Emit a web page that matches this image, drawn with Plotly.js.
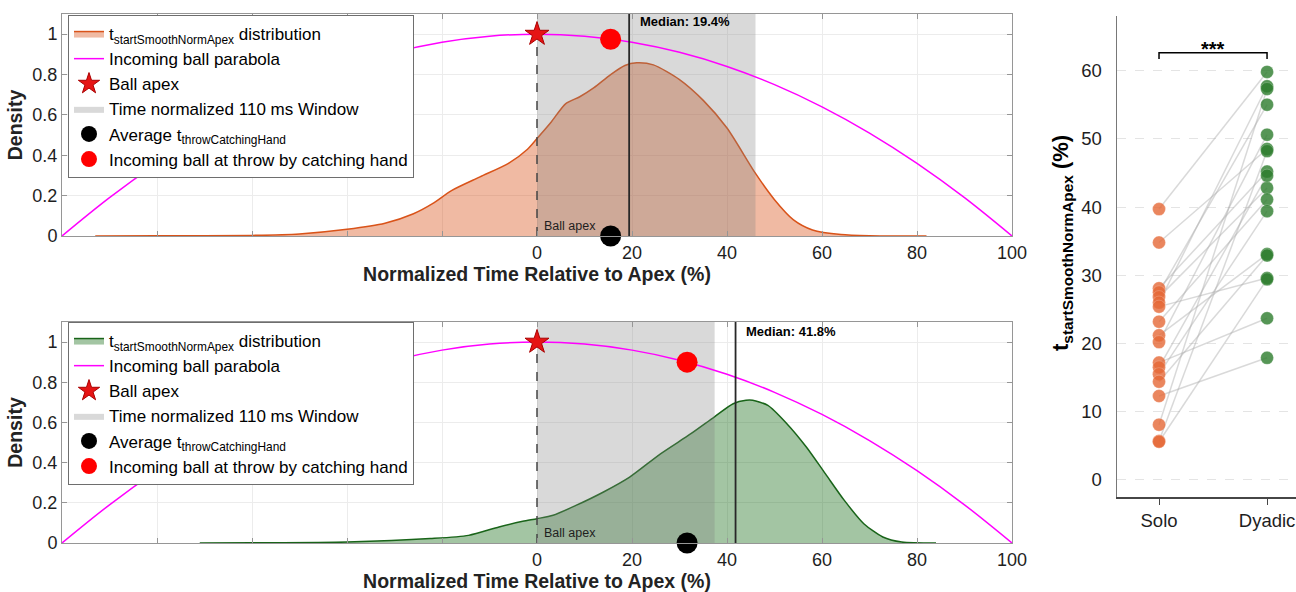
<!DOCTYPE html>
<html>
<head>
<meta charset="utf-8">
<script src="https://cdn.plot.ly/plotly-3.0.1.min.js"></script>
<style>html,body{margin:0;padding:0;background:#fff;}#chart{width:1296px;height:592px;}</style>
</head>
<body>
<div id="chart"></div>
<script>
// ---------- data ----------
const densTopX = [-93,-80,-60,-50,-40,-32,-26,-22,-18,-12,-6,-2,0,3,6,9,12,15.5,18.5,21,24.5,30,35,40,46,50,54,58,64,70,82];
const densTopY = [0,0.001,0.003,0.01,0.033,0.063,0.11,0.16,0.225,0.293,0.36,0.43,0.483,0.565,0.655,0.69,0.735,0.8,0.845,0.858,0.848,0.775,0.672,0.535,0.31,0.18,0.08,0.03,0.007,0.001,0];
const densBotX = [-71,-60,-40,-22.5,-14.4,-8,-3,0,3.4,8.2,14,19.5,26,32.4,37.3,41.3,44,45.4,48.6,52.6,56.7,60.7,64.7,68.8,72.8,76.8,84];
const densBotY = [0,0.001,0.005,0.022,0.038,0.08,0.108,0.121,0.138,0.187,0.254,0.328,0.444,0.544,0.627,0.693,0.71,0.71,0.685,0.594,0.478,0.345,0.212,0.096,0.03,0.005,0];
const parabolaX = [-100,-90,-80,-70,-60,-50,-40,-30,-20,-10,0,10,20,30,40,50,60,70,80,90,100];
const parabolaY = [0,0.19,0.36,0.51,0.64,0.75,0.84,0.91,0.96,0.99,1,0.99,0.96,0.91,0.84,0.75,0.64,0.51,0.36,0.19,0];
const apex = {x: 0, y: 1};
const windowEnd = [46, 37.4];          // end of time-normalised 110 ms window (top, bottom)
const medians = [19.4, 41.8];
const throwTime = [15.5, 31.6];        // average t_throwCatchingHand
const ballAtThrow = [0.975, 0.90];     // parabola height at throw time
const xTickVals = [0,20,40,60,80,100];
const xTickText = ['0','20','40','60','80','100'];
const yTickVals = [0,0.2,0.4,0.6,0.8,1];
const yTickText = ['0','0.2','0.4','0.6','0.8','1'];

const groups = ['Solo','Dyadic'];
const solo   = [39.7,34.8,28.1,27.5,26.8,26.0,25.4,23.2,21.2,20.2,17.2,16.5,15.5,14.4,12.3,8.1,5.7,5.6];
const dyadic = [59.8,48.5,45.2,55.0,42.8,57.7,29.6,41.1,33.1,50.6,23.7,44.6,39.4,32.9,17.9,57.3,48.2,29.4];
const rightTicks = [0,10,20,30,40,50,60];

// ---------- styling ----------
const FONT = 'Liberation Sans, Arial, Helvetica, sans-serif';
const orange = 'rgb(217,83,25)';
const green = 'rgb(25,100,25)';

const traces = [];
function panel(xa, ya, leg, dx, dy, fill, line, wEnd, med, tThrow, yThrow) {
  traces.push({x: dx, y: dy, xaxis: xa, yaxis: ya, type: 'scatter', mode: 'lines', fill: 'tozeroy',
    fillcolor: fill, line: {color: line, width: 1.5, shape: 'spline', smoothing: 0.7},
    name: 't<sub>startSmoothNormApex</sub> distribution', legend: leg, legendrank: 1});
  traces.push({x: [0, wEnd, wEnd, 0, 0], y: [0, 0, 1.1, 1.1, 0], xaxis: xa, yaxis: ya, type: 'scatter', mode: 'lines',
    fill: 'toself', fillcolor: 'rgba(128,128,128,0.3)', line: {width: 0, color: 'rgba(128,128,128,0.3)'},
    name: 'Time normalized 110 ms Window', legend: leg, legendrank: 4, hoverinfo: 'skip'});
  traces.push({x: parabolaX, y: parabolaY, xaxis: xa, yaxis: ya, type: 'scatter', mode: 'lines',
    line: {color: 'rgb(255,0,255)', width: 1.5, shape: 'spline'}, name: 'Incoming ball parabola', legend: leg, legendrank: 2});
  traces.push({x: [apex.x, apex.x], y: [0, apex.y], xaxis: xa, yaxis: ya, type: 'scatter', mode: 'lines',
    line: {color: 'rgb(70,70,70)', width: 1.5, dash: 'dash'}, showlegend: false, legend: leg});
  traces.push({x: [med, med], y: [0, 1.1], xaxis: xa, yaxis: ya, type: 'scatter', mode: 'lines',
    line: {color: 'rgb(40,40,40)', width: 1.8}, showlegend: false, legend: leg});
  traces.push({x: [apex.x], y: [apex.y], xaxis: xa, yaxis: ya, type: 'scatter', mode: 'markers',
    marker: {symbol: 'star', size: 18, color: 'rgb(230,20,20)', line: {color: 'rgb(170,0,0)', width: 1}},
    name: 'Ball apex', legend: leg, legendrank: 3});
  traces.push({x: [tThrow], y: [0], xaxis: xa, yaxis: ya, type: 'scatter', mode: 'markers', cliponaxis: false,
    marker: {symbol: 'circle', size: 21, color: 'black'},
    name: 'Average t<sub>throwCatchingHand</sub>', legend: leg, legendrank: 5});
  traces.push({x: [tThrow], y: [yThrow], xaxis: xa, yaxis: ya, type: 'scatter', mode: 'markers',
    marker: {symbol: 'circle', size: 21, color: 'rgb(255,0,0)'},
    name: 'Incoming ball at throw by catching hand', legend: leg, legendrank: 6});
}
panel('x', 'y', 'legend', densTopX, densTopY, 'rgba(217,83,25,0.4)', orange, windowEnd[0], medians[0], throwTime[0], ballAtThrow[0]);
panel('x2', 'y2', 'legend2', densBotX, densBotY, 'rgba(25,110,25,0.4)', green, windowEnd[1], medians[1], throwTime[1], ballAtThrow[1]);

// right panel: paired lines
const px = [], py = [];
for (let i = 0; i < solo.length; i++) { px.push(0, 1, null); py.push(solo[i], dyadic[i], null); }
traces.push({x: px, y: py, xaxis: 'x3', yaxis: 'y3', type: 'scatter', mode: 'lines',
  line: {color: 'rgba(170,170,170,0.45)', width: 1.5}, showlegend: false});
traces.push({x: solo.map(() => 0), y: solo, xaxis: 'x3', yaxis: 'y3', type: 'scatter', mode: 'markers', showlegend: false,
  marker: {size: 13, color: 'rgb(230,105,55)', opacity: 0.8, line: {color: 'rgba(255,255,255,0.5)', width: 0.5}}});
traces.push({x: dyadic.map(() => 1), y: dyadic, xaxis: 'x3', yaxis: 'y3', type: 'scatter', mode: 'markers', showlegend: false,
  marker: {size: 13, color: 'rgb(45,125,45)', opacity: 0.8, line: {color: 'rgba(255,255,255,0.5)', width: 0.5}}});
traces.push({x: [0, 0, 1, 1], y: [61.7, 62.6, 62.6, 61.7], xaxis: 'x3', yaxis: 'y3', type: 'scatter', mode: 'lines',
  line: {color: 'black', width: 1.5}, showlegend: false});

const boxAxis = (extra) => Object.assign({
  showline: true, linecolor: 'rgb(150,150,150)', linewidth: 1, mirror: 'ticks',
  ticks: 'inside', ticklen: 5, tickcolor: 'rgb(150,150,150)',
  showgrid: true, gridcolor: 'rgb(236,236,236)', zeroline: false,
  tickfont: {family: FONT, size: 18, color: 'rgb(30,30,30)'}
}, extra);
const xMinor = {tickmode: 'linear', tick0: -100, dtick: 20, showgrid: true, gridcolor: 'rgb(236,236,236)',
  ticks: 'inside', ticklen: 5, tickcolor: 'rgb(150,150,150)'};

const xTitle = {text: 'Normalized Time Relative to Apex (%)', font: {family: FONT, size: 19.5, color: 'rgb(35,35,35)', weight: 'bold'}, standoff: 4};
const yTitle = {text: 'Density', font: {family: FONT, size: 19.5, color: 'rgb(35,35,35)', weight: 'bold'}, standoff: 4};

const legendStyle = (y) => ({
  x: 68/1296, y: y, xanchor: 'left', yanchor: 'top', xref: 'paper', yref: 'paper',
  bgcolor: 'white', bordercolor: 'rgb(110,110,110)', borderwidth: 1,
  font: {family: FONT, size: 17, color: 'black'}, tracegroupgap: 0, itemwidth: 30
});

const layout = {
  width: 1296, height: 592, margin: {l: 0, r: 0, t: 0, b: 0},
  paper_bgcolor: 'white', plot_bgcolor: 'white', showlegend: true,
  font: {family: FONT},
  legend: legendStyle(1 - 15/592),
  legend2: legendStyle(1 - 322/592),
  xaxis: boxAxis({domain: [62/1296, 1012/1296], range: [-100, 100], tickvals: xTickVals, ticktext: xTickText, minor: xMinor, anchor: 'y', title: xTitle}),
  yaxis: boxAxis({domain: [1 - 236/592, 1 - 14/592], range: [0, 1.1], tickvals: yTickVals, ticktext: yTickText, anchor: 'x', title: yTitle}),
  xaxis2: boxAxis({domain: [62/1296, 1012/1296], range: [-100, 100], tickvals: xTickVals, ticktext: xTickText, minor: xMinor, anchor: 'y2', title: xTitle}),
  yaxis2: boxAxis({domain: [1 - 543/592, 1 - 322/592], range: [0, 1.1], tickvals: yTickVals, ticktext: yTickText, anchor: 'x2', title: yTitle}),
  xaxis3: {domain: [1117/1296, 1], range: [-0.389, 1.268], anchor: 'y3', tickvals: [0, 1], ticktext: groups,
    ticklabeloverflow: 'allow',
    showline: true, linecolor: 'rgb(70,70,70)', linewidth: 1.5, ticks: 'outside', ticklen: 6, tickcolor: 'rgb(70,70,70)',
    showgrid: false, zeroline: false, tickfont: {family: FONT, size: 18.5, color: 'rgb(30,30,30)'}},
  yaxis3: {domain: [1 - 497/592, 1 - 16/592], range: [-2.5, 68], anchor: 'x3', tickvals: rightTicks,
    showline: true, linecolor: 'rgb(120,120,120)', linewidth: 1.5, ticks: 'outside', ticklen: 10, tickcolor: 'rgba(0,0,0,0)',
    showgrid: true, gridcolor: 'rgb(228,228,228)', griddash: 'dash', zeroline: false,
    tickfont: {family: FONT, size: 18.5, color: 'rgb(30,30,30)'}},
  annotations: [
    {xref: 'x', yref: 'y', x: 1, y: 0.05, text: 'Ball apex', showarrow: false, xanchor: 'left', yanchor: 'middle', font: {family: FONT, size: 12.5, color: 'rgb(30,30,30)'}},
    {xref: 'x2', yref: 'y2', x: 1, y: 0.05, text: 'Ball apex', showarrow: false, xanchor: 'left', yanchor: 'middle', font: {family: FONT, size: 12.5, color: 'rgb(30,30,30)'}},
    {xref: 'x', yref: 'y', x: medians[0] + 1.8, y: 1.065, text: 'Median: ' + medians[0] + '%', showarrow: false, xanchor: 'left', yanchor: 'middle', font: {family: FONT, size: 13, color: 'black', weight: 'bold'}},
    {xref: 'x2', yref: 'y2', x: medians[1] + 1.8, y: 1.055, text: 'Median: ' + medians[1] + '%', showarrow: false, xanchor: 'left', yanchor: 'middle', font: {family: FONT, size: 13, color: 'black', weight: 'bold'}},
    {xref: 'x3', yref: 'y3', x: 0.5, y: 61.2, text: '***', showarrow: false, xanchor: 'center', yanchor: 'bottom', font: {family: FONT, size: 20, color: 'black', weight: 'bold'}},
    {xref: 'paper', yref: 'paper', x: 1062/1296, y: 1 - 243/592, text: 't<sub>startSmoothNormApex</sub> (%)', showarrow: false, textangle: -90, xanchor: 'center', yanchor: 'middle', font: {family: FONT, size: 22, color: 'black', weight: 'bold'}}
  ]
};

Plotly.newPlot('chart', traces, layout, {displayModeBar: false, staticPlot: true});
</script>
</body>
</html>
